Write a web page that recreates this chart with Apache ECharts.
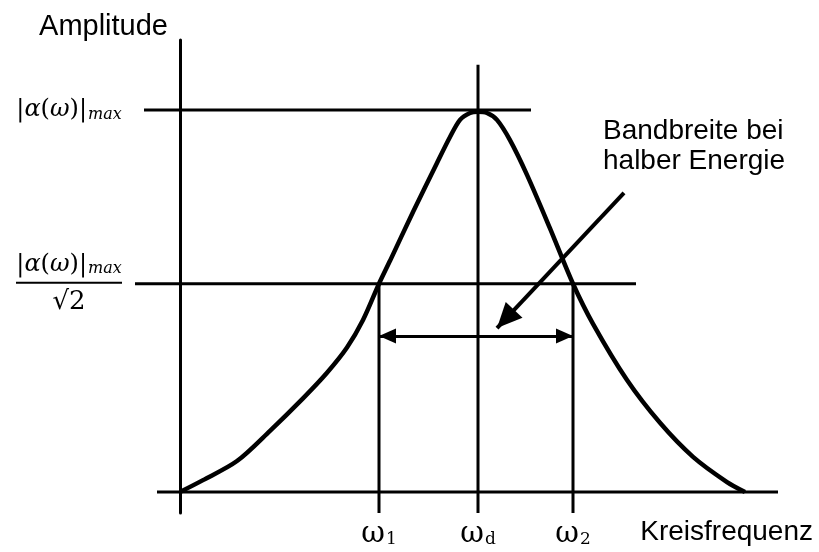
<!DOCTYPE html>
<html>
<head>
<meta charset="utf-8">
<script src="https://cdn.jsdelivr.net/npm/echarts@6/dist/echarts.min.js"></script>
<style>
  html, body { margin: 0; padding: 0; background: #fff; }
  #chart { width: 819px; height: 552px; }
</style>
</head>
<body>
<div id="chart"></div>
<script>
// Resonance curve: amplitude over angular frequency (schematic units)
const curveFreq = [0, 0.23, 0.57, 0.90, 1.23, 1.47, 1.67, 1.83, 1.99, 2.10, 2.33, 2.57, 2.70, 2.80, 2.90, 2.98,
                   3.07, 3.17, 3.30, 3.47, 3.70, 3.93, 4.13, 4.47, 4.80, 5.13, 5.47, 5.65];
const curveAmp  = [0, 0.031, 0.081, 0.160, 0.245, 0.312, 0.378, 0.450, 0.545, 0.605, 0.733, 0.861, 0.929, 0.974, 0.992, 0.995,
                   0.992, 0.974, 0.921, 0.830, 0.690, 0.545, 0.440, 0.293, 0.181, 0.092, 0.026, 0];

// Characteristic frequencies ω1, ωd, ω2
const freqSubscripts = ['1', 'd', '2'];
const freqValues = [1.99, 2.98, 3.93];

// Amplitude levels: maximum and maximum / √2
const levelValues = [1.0, 0.545];
// Horizontal reach of the level lines [from, to]
const levelSpans = [[-0.36, 3.51], [-0.45, 4.56]];
// Top end of the vertical markers at ω1, ωd, ω2
const freqTops = [0.545, 1.118, 0.545];

// Bandwidth arrow height and the annotation pointer [tail, tip]
const bandArrowLevel = 0.408;
const pointerTail = [4.44, 0.783];
const pointerTip = [3.17, 0.429];

// Visible frequency axis reach and plotting extents
const freqAxisSpan = [-0.23, 5.98];
const axisMin = { x: -0.50, y: -0.055 };
const axisMax = { x: 5.98, y: 1.183 };

const SANS = "'Liberation Sans', Arial, sans-serif";
const SERIF = "'DejaVu Serif', 'Liberation Serif', serif";
// Solid triangular arrow head, apex pointing along the line
const HEAD = 'path://M5,0L10,12L0,12Z';
const bandHead = [15, 17];
const pointerHead = [23, 25];

const chart = echarts.init(document.getElementById('chart'), null, { renderer: 'canvas' });

// Straight black segment drawn as its own line series
function segment(name, from, to) {
  return {
    name: name,
    type: 'line',
    data: [from, to],
    showSymbol: false,
    silent: true,
    lineStyle: { color: '#000', width: 3 },
    z: 2
  };
}

const guideSeries = [segment('freqAxis', [freqAxisSpan[0], 0], [freqAxisSpan[1], 0])];
levelValues.forEach((lv, i) => {
  guideSeries.push(segment('level' + i, [levelSpans[i][0], lv], [levelSpans[i][1], lv]));
});
freqValues.forEach((f, i) => {
  guideSeries.push(segment('freq' + i, [f, freqTops[i]], [f, axisMin.y]));
});

const ampLabel = '{u||}{i|α}{u|(}{i|ω}{u|)|}{s|max}';
const halfLabel = ampLabel + '\n{bar| }\n{root|√2}';

const option = {
  backgroundColor: '#ffffff',
  animation: false,
  grid: { left: 130, right: 41, top: 40, bottom: 39, containLabel: false, outerBoundsMode: 'none' },
  xAxis: {
    type: 'value',
    min: axisMin.x,
    max: axisMax.x,
    name: 'Kreisfrequenz',
    nameLocation: 'end',
    nameGap: 35,
    nameTextStyle: { fontFamily: SANS, fontSize: 28, color: '#000', align: 'right', verticalAlign: 'top', padding: [26, 0, 0, 0] },
    axisLine: { show: false, onZero: true },
    axisTick: { show: false },
    splitLine: { show: false },
    axisLabel: {
      customValues: freqValues,
      margin: 6,
      color: '#000',
      formatter: (v) => {
        const i = freqValues.findIndex((f) => Math.abs(f - v) < 1e-6);
        return '{w|ω}{sub|' + freqSubscripts[i] + '}';
      },
      rich: {
        w: { fontFamily: SERIF, fontSize: 29, color: '#000', lineHeight: 30 },
        sub: { fontFamily: SERIF, fontSize: 17, color: '#000', lineHeight: 30, padding: [12, 0, 0, 1] }
      }
    }
  },
  yAxis: {
    type: 'value',
    min: axisMin.y,
    max: axisMax.y,
    name: 'Amplitude',
    nameLocation: 'end',
    nameGap: -1,
    nameTextStyle: { fontFamily: SANS, fontSize: 29, color: '#000', align: 'right', verticalAlign: 'bottom', padding: [0, 12, 0, 0] },
    axisLine: { onZero: true, lineStyle: { color: '#000', width: 3 } },
    axisTick: { show: false },
    splitLine: { show: false },
    axisLabel: {
      customValues: levelValues,
      margin: 61,
      align: 'center',
      color: '#000',
      formatter: (v) => (Math.abs(v - levelValues[0]) < 1e-6 ? ampLabel : halfLabel),
      rich: {
        u: { fontFamily: SERIF, fontSize: 24, color: '#000', lineHeight: 28 },
        i: { fontFamily: SERIF, fontStyle: 'italic', fontSize: 24, color: '#000', lineHeight: 28 },
        s: { fontFamily: SERIF, fontStyle: 'italic', fontSize: 16, color: '#000', lineHeight: 28, padding: [9, 0, 0, 1] },
        bar: { width: 106, height: 2, lineHeight: 8, backgroundColor: '#000' },
        root: { fontFamily: SERIF, fontSize: 26, color: '#000', lineHeight: 30 }
      }
    }
  },
  graphic: [
    {
      type: 'text',
      left: 603,
      top: 116,
      silent: true,
      style: {
        text: 'Bandbreite bei\nhalber Energie',
        font: '28px ' + SANS,
        lineHeight: 30,
        fill: '#000'
      }
    }
  ],
  series: [
    {
      name: 'Amplitude',
      type: 'line',
      data: curveFreq.map((f, i) => [f, curveAmp[i]]),
      smooth: 0.3,
      showSymbol: false,
      silent: true,
      clip: false,
      lineStyle: { color: '#000', width: 4.5 },
      z: 3
    },
    ...guideSeries,
    {
      name: 'bandwidth',
      type: 'line',
      data: [],
      silent: true,
      markLine: {
        silent: true,
        symbol: [HEAD, HEAD],
        symbolSize: bandHead,
        // shift each head back so its apex sits on the end point
        symbolOffset: [[0, bandHead[1] / 2], [0, bandHead[1] / 2]],
        label: { show: false },
        lineStyle: { color: '#000', width: 3, type: 'solid' },
        emphasis: { disabled: true },
        data: [[{ coord: [freqValues[0], bandArrowLevel] }, { coord: [freqValues[2], bandArrowLevel] }]]
      }
    },
    {
      name: 'pointer',
      type: 'line',
      data: [],
      silent: true,
      markLine: {
        silent: true,
        symbol: ['none', HEAD],
        symbolSize: pointerHead,
        symbolOffset: [0, [0, pointerHead[1] / 2]],
        label: { show: false },
        lineStyle: { color: '#000', width: 4, type: 'solid' },
        emphasis: { disabled: true },
        data: [[{ coord: pointerTail }, { coord: pointerTip }]]
      }
    }
  ]
};

chart.setOption(option);
</script>
</body>
</html>
